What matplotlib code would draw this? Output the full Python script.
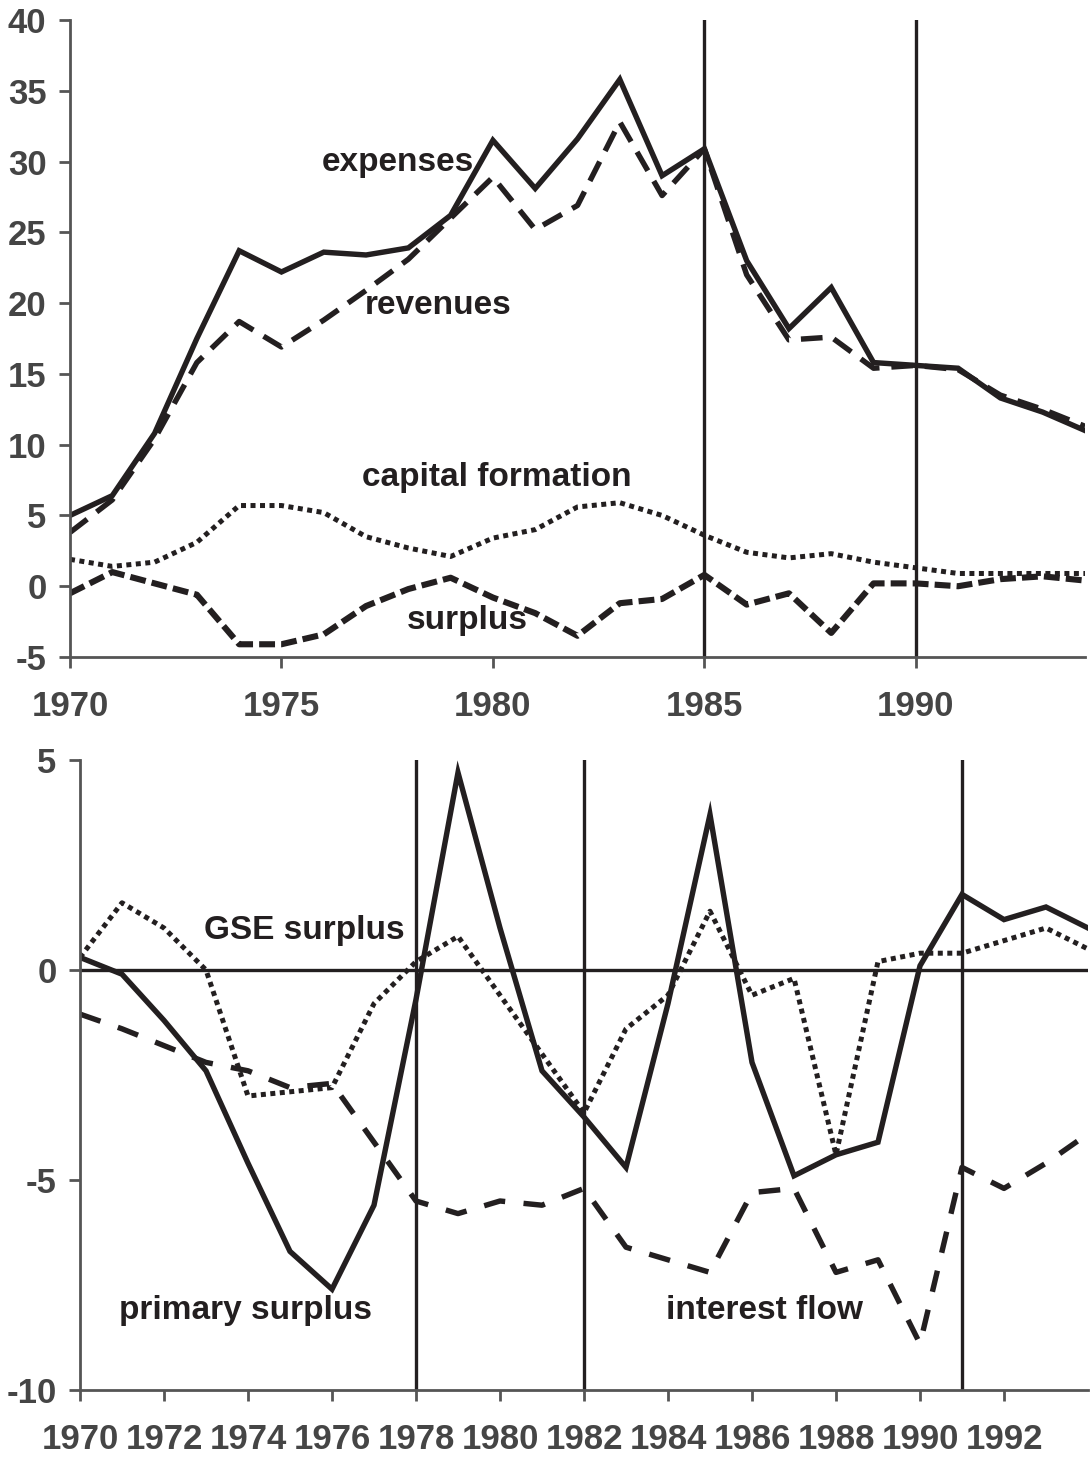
import matplotlib
matplotlib.use("Agg")
import matplotlib.pyplot as plt

plt.rcParams['font.family'] = ['Liberation Sans', 'DejaVu Sans']
plt.rcParams['axes.unicode_minus'] = False

# ---------------- data: top panel ----------------
years_top = list(range(1970, 1995))
expenses = [5.0, 6.4, 10.8, 17.5, 23.7, 22.2, 23.6, 23.4, 23.9, 26.2, 31.5, 28.1, 31.6,
            35.8, 29.0, 30.9, 23.0, 18.2, 21.1, 15.8, 15.6, 15.4, 13.3, 12.3, 11.0]
revenues = [3.8, 6.1, 10.4, 15.8, 18.7, 16.9, 18.8, 20.9, 23.1, 26.0, 28.9, 25.2, 26.9,
            32.8, 27.6, 30.9, 22.0, 17.4, 17.6, 15.4, 15.6, 15.3, 13.5, 12.5, 11.3]
capital_formation = [1.9, 1.4, 1.7, 3.1, 5.7, 5.7, 5.2, 3.5, 2.7, 2.1, 3.4, 4.0, 5.6,
                     5.9, 5.0, 3.6, 2.4, 2.0, 2.3, 1.7, 1.3, 0.9, 0.9, 0.9, 0.9]
surplus = [-0.5, 1.0, 0.2, -0.6, -4.1, -4.1, -3.4, -1.4, -0.2, 0.6, -0.8, -1.9, -3.5,
           -1.2, -0.9, 0.8, -1.3, -0.5, -3.3, 0.2, 0.2, 0.0, 0.5, 0.7, 0.4]
top_vlines = [1985, 1990]
top_xticks = [1970, 1975, 1980, 1985, 1990]
top_yticks = [-5, 0, 5, 10, 15, 20, 25, 30, 35, 40]

# ---------------- data: bottom panel ----------------
years_bot = list(range(1970, 1995))
primary_surplus = [0.3, -0.1, -1.2, -2.4, -4.6, -6.7, -7.6, -5.6, -0.7, 4.7, 1.0, -2.4, -3.5,
                   -4.7, -0.8, 3.7, -2.2, -4.9, -4.4, -4.1, 0.1, 1.8, 1.2, 1.5, 1.0]
gse_surplus = [0.3, 1.6, 1.0, 0.0, -3.0, -2.9, -2.8, -0.8, 0.2, 0.8, -0.6, -2.0, -3.4,
               -1.4, -0.6, 1.4, -0.6, -0.2, -4.4, 0.2, 0.4, 0.4, 0.7, 1.0, 0.5]
interest_flow = [-1.05, -1.4, -1.8, -2.2, -2.4, -2.8, -2.7, -4.1, -5.5, -5.8, -5.5, -5.6, -5.2,
                 -6.6, -6.9, -7.2, -5.3, -5.2, -7.2, -6.9, -8.9, -4.7, -5.2, -4.6, -3.9]
bot_vlines = [1978, 1982, 1991]
bot_xticks = list(range(1970, 1993, 2))
bot_yticks = [-10, -5, 0, 5]

W, H = 1091, 1457
fig = plt.figure(figsize=(W / 100, H / 100), dpi=100)

ax1 = fig.add_axes([70 / W, 1 - 657 / H, (1085 - 70) / W, (657 - 20) / H])
ax2 = fig.add_axes([80 / W, 1 - 1390 / H, (1088 - 80) / W, (1390 - 760) / H])

spine_col = '#555555'
tick_col = '#454545'
ink = '#231f20'

def style(ax):
    for s in ['top', 'right']:
        ax.spines[s].set_visible(False)
    for s in ['left', 'bottom']:
        ax.spines[s].set_color(spine_col)
        ax.spines[s].set_linewidth(2.0)
    ax.tick_params(direction='out', length=8, width=2.0, color=spine_col,
                   labelsize=25, labelcolor=tick_col)
    ax.tick_params(axis='x', pad=16)
    ax.tick_params(axis='y', pad=9)
    for lab in ax.get_xticklabels() + ax.get_yticklabels():
        lab.set_fontweight('bold')

# ---------------- top panel ----------------
lw = 3.9
ax1.plot(years_top, expenses, color=ink, lw=lw, solid_joinstyle='miter')
ax1.plot(years_top, revenues, color=ink, lw=lw, linestyle=(0, (4, 2.2)))
ax1.plot(years_top, capital_formation, color=ink, lw=3.6, linestyle=(0, (1, 0.9)))
ax1.plot(years_top, surplus, color=ink, lw=4.4, linestyle=(0, (2.6, 1.0)))
for v in top_vlines:
    ax1.axvline(v, color=ink, lw=2.4, ymin=0, ymax=1)
ax1.set_xlim(1970, 1994)
ax1.set_ylim(-5, 40)
ax1.set_xticks(top_xticks)
ax1.set_yticks(top_yticks)
style(ax1)

tkw = dict(fontsize=24, fontweight='bold', color=ink, ha='center', va='center')
ax1.text(1977.75, 29.9, 'expenses', **tkw)
ax1.text(1978.7, 19.8, 'revenues', **tkw)
ax1.text(1980.1, 7.7, 'capital formation', **tkw)
ax1.text(1979.4, -2.4, 'surplus', **tkw)

# ---------------- bottom panel ----------------
ax2.plot(years_bot, primary_surplus, color=ink, lw=lw, solid_joinstyle='miter')
ax2.plot(years_bot, gse_surplus, color=ink, lw=3.6, linestyle=(0, (1, 0.9)))
ax2.plot(years_bot, interest_flow, color=ink, lw=lw, linestyle=(0, (4, 3.4)))
ax2.axhline(0, color=ink, lw=2.4)
for v in bot_vlines:
    ax2.axvline(v, color=ink, lw=2.4)
ax2.set_xlim(1970, 1994)
ax2.set_ylim(-10, 5)
ax2.set_xticks(bot_xticks)
ax2.set_yticks(bot_yticks)
style(ax2)

ax2.text(1975.35, 0.95, 'GSE surplus', **tkw)
ax2.text(1973.95, -8.1, 'primary surplus', **tkw)
ax2.text(1986.3, -8.1, 'interest flow', **tkw)

fig.savefig('out.png', dpi=100)
